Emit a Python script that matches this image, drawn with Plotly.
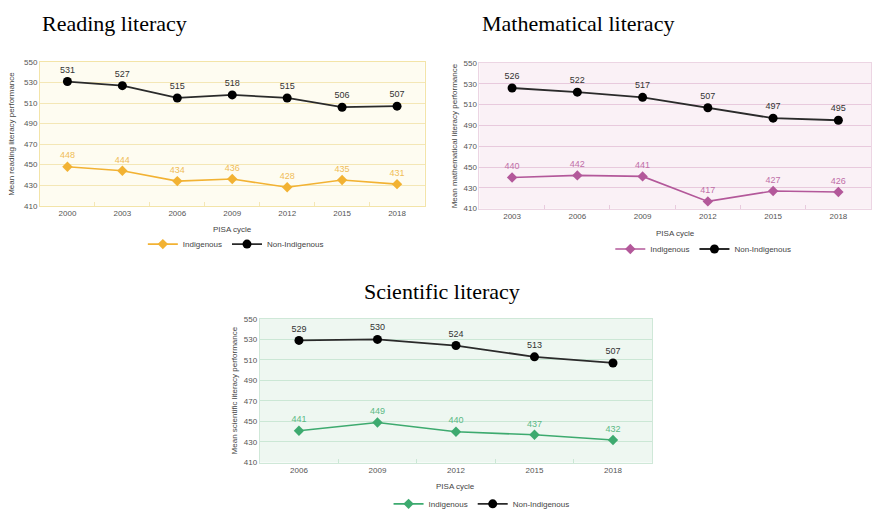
import plotly.graph_objects as go

# ---------------- data ----------------
read_years = ["2000", "2003", "2006", "2009", "2012", "2015", "2018"]
read_indig = [448, 444, 434, 436, 428, 435, 431]
read_non = [531, 527, 515, 518, 515, 506, 507]

math_years = ["2003", "2006", "2009", "2012", "2015", "2018"]
math_indig = [440, 442, 441, 417, 427, 426]
math_non = [526, 522, 517, 507, 497, 495]

sci_years = ["2006", "2009", "2012", "2015", "2018"]
sci_indig = [441, 449, 440, 437, 432]
sci_non = [529, 530, 524, 513, 507]

y_ticks = [410, 430, 450, 470, 490, 510, 530, 550]

W, H = 872, 560  # figure taller than window so the bottom legend is not pushed up


def fx(px):
    return px / W


def fy(py):
    return 1 - py / H


panels = [
    dict(years=read_years, indig=read_indig, non=read_non, color="#f2b233", lab="#f0bd58",
         bg="#fefcf1", grid="#f4e7b6", border="#f3e4a8",
         xd=[40, 425], yd=[59, 205], ytitle="Mean reading literacy performance", ytx=12,
         title="Reading literacy", title_x=40, title_y=20,
         leg_x=143, leg_y=244, cyc_y=229, xa="x", ya="y", legend="legend"),
    dict(years=math_years, indig=math_indig, non=math_non, color="#b3589a", lab="#bf6fa8",
         bg="#faf1f6", grid="#e8cadd", border="#ecd5e3",
         xd=[480, 872], yd=[60, 208], ytitle="Mean mathematical literacy performance", ytx=455,
         title="Mathematical literacy", title_x=481, title_y=20,
         leg_x=611, leg_y=249, cyc_y=233, xa="x2", ya="y2", legend="legend2"),
    dict(years=sci_years, indig=sci_indig, non=sci_non, color="#3daa6f", lab="#5bb985",
         bg="#eef7f1", grid="#cbe7d5", border="#cfe8d8",
         xd=[260, 653], yd=[320, 466], ytitle="Mean scientific literacy performance", ytx=235,
         title="Scientific literacy", title_x=None, title_y=292,
         leg_x=389, leg_y=508, cyc_y=490, xa="x3", ya="y3", legend="legend3"),
]

fig = go.Figure()
annotations = []
shapes = []
layout = {}

for i, p in enumerate(panels):
    suf = "" if i == 0 else str(i + 1)
    fig.add_trace(go.Scatter(
        x=p["years"], y=p["indig"], name="Indigenous", mode="lines+markers+text",
        line=dict(color=p["color"], width=1.6),
        marker=dict(symbol="diamond", size=8, color=p["color"]),
        text=[str(v) for v in p["indig"]], textposition="top center",
        textfont=dict(family="Liberation Sans, Arial", size=9, color=p["lab"]),
        xaxis=p["xa"], yaxis=p["ya"], legend=p["legend"], cliponaxis=False))
    fig.add_trace(go.Scatter(
        x=p["years"], y=p["non"], name="Non-Indigenous", mode="lines+markers+text",
        line=dict(color="#2a2a2a", width=1.8),
        marker=dict(symbol="circle", size=9, color="#000000"),
        text=[str(v) for v in p["non"]], textposition="top center",
        textfont=dict(family="Liberation Sans, Arial", size=9, color="#333333"),
        xaxis=p["xa"], yaxis=p["ya"], legend=p["legend"], cliponaxis=False))

    n = len(p["years"])
    layout["xaxis" + suf] = dict(
        domain=[fx(p["xd"][0]), fx(p["xd"][1])], anchor="y" + suf,
        type="category", range=[-0.5, n - 0.5], showgrid=False,
        ticks="inside", tickson="boundaries", ticklen=4, tickcolor=p["grid"],
        tickfont=dict(family="Liberation Sans, Arial", size=8, color="#555555"),
        showline=True, linecolor=p["border"], mirror=True, zeroline=False,
        fixedrange=True)
    layout["yaxis" + suf] = dict(
        domain=[fy(p["yd"][1]), fy(p["yd"][0])], anchor="x" + suf,
        range=[410, 550], tickvals=y_ticks, showgrid=True, gridcolor=p["grid"],
        gridwidth=1, ticks="", tickfont=dict(family="Liberation Sans, Arial", size=8, color="#555555"),
        showline=True, linecolor=p["border"], mirror=True, zeroline=False,
        fixedrange=True)

    shapes.append(dict(type="rect", xref="paper", yref="paper",
                       x0=fx(p["xd"][0]), x1=fx(p["xd"][1]),
                       y0=fy(p["yd"][1]), y1=fy(p["yd"][0]),
                       fillcolor=p["bg"], line=dict(width=0), layer="below"))

    # y title
    annotations.append(dict(text=p["ytitle"], xref="paper", yref="paper",
                            x=fx(p["ytx"]), y=fy((p["yd"][0] + p["yd"][1]) / 2),
                            textangle=-90, showarrow=False, xanchor="center", yanchor="middle",
                            font=dict(family="Liberation Sans, Arial", size=8, color="#444444")))
    # x title
    annotations.append(dict(text="PISA cycle", xref="paper", yref="paper",
                            x=fx((p["xd"][0] + p["xd"][1]) / 2), y=fy(p["cyc_y"]),
                            showarrow=False, xanchor="center", yanchor="middle",
                            font=dict(family="Liberation Sans, Arial", size=8, color="#444444")))
    # panel title
    tfont = dict(family="Liberation Serif, Times New Roman", size=22, color="#000000")
    if p["title_x"] is None:
        annotations.append(dict(text=p["title"], xref="paper", yref="paper",
                                x=fx(443), y=fy(p["title_y"]), showarrow=False,
                                xanchor="center", yanchor="middle", font=tfont))
    else:
        annotations.append(dict(text=p["title"], xref="paper", yref="paper",
                                x=fx(p["title_x"]), y=fy(p["title_y"]), showarrow=False,
                                xanchor="left", yanchor="middle", font=tfont))

    layout[p["legend"]] = dict(orientation="h", x=fx(p["leg_x"]), y=fy(p["leg_y"]),
                               xanchor="left", yanchor="middle", bgcolor="rgba(0,0,0,0)",
                               font=dict(family="Liberation Sans, Arial", size=8, color="#444444"),
                               itemwidth=30, tracegroupgap=0)

fig.update_layout(
    width=W, height=H, margin=dict(l=0, r=0, t=0, b=0),
    paper_bgcolor="white", plot_bgcolor="rgba(0,0,0,0)",
    showlegend=True, annotations=annotations, shapes=shapes, **layout)

fig.write_html(
    "out.html",
    config={"displayModeBar": False},
    post_script="document.body.style.margin='0';document.body.style.overflow='hidden';")
